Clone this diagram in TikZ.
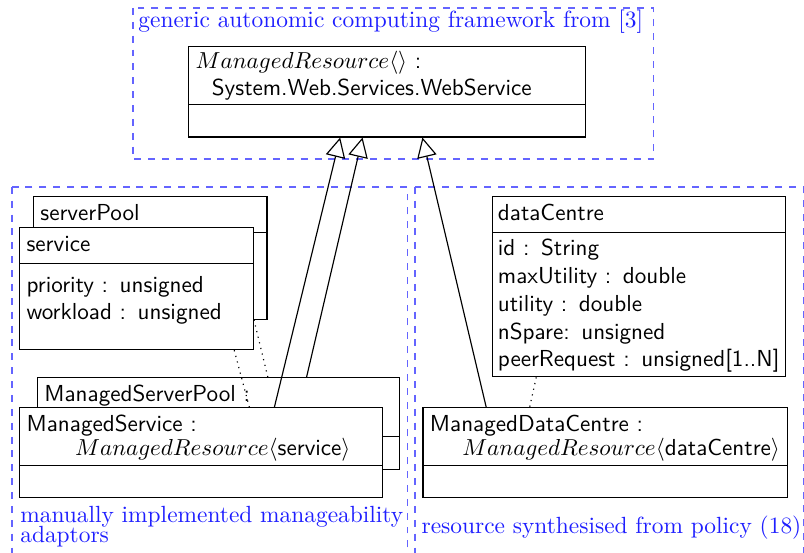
\documentclass[tikz,border=0pt]{standalone}
\usepackage{xcolor}
\usepackage{tikz}
\usepackage{amsmath}
\definecolor{frame1} {RGB} {100, 100, 255}
\definecolor{label1} {RGB} {30, 30, 255}
\usetikzlibrary{shapes.multipart}
\usetikzlibrary{arrows.meta,calc}
\tikzstyle{uml}=[
  line width=0.5pt, font=\sffamily
]
\tikzstyle{umlclass}=[
  draw, fill=white, rectangle split, rectangle split parts=2,
  anchor=north west, align=left, inner xsep=3pt, inner ysep=1.5pt
]
\tikzstyle{umlframe}=[
  draw=frame1, dashed, line width=0.65pt
]
\tikzstyle{umlnote}=[
  text=label1, font=\rmfamily\fontsize{10.12pt}{12pt}\selectfont,
  anchor=north west, inner sep=0pt, align=left
]
\tikzstyle{umlinherit}=[
  -{Triangle[open, length=8.5pt, width=8.5pt]}
]
\tikzstyle{umlbind}=[
  dotted
]

\begin{document}
\begin{tikzpicture}[uml]
    \useasboundingbox (0.0, 0.0) rectangle (12.22, 8.39);
    \draw [umlframe] (2.02, 8.27) rectangle (9.93, 5.97);
    \draw [umlframe] (0.18, 5.55) rectangle (6.19, -0.3);
    \draw [umlframe] (6.31, 5.55) rectangle (12.21, -0.3);
    \node (generic) [umlnote] at (2.095, 8.24) {generic autonomic computing framework from [3]};
    \node (mres) [umlclass, text width=165.5pt] at (2.86, 7.69)
        {$ManagedResource\langle\rangle$ :\\\hspace*{7pt}System.Web.Services.WebService
         \nodepart{second}\rule{0pt}{10.5pt}};
    \node (serverPool) [umlclass, text width=95pt] at ($(mres.north west) + (-2.36, -2.28)$)
        {\strut serverPool
         \nodepart{second}\rule{0pt}{34pt}};
    \node (service) [umlclass, text width=95pt] at ($(serverPool.north west) + (-0.21, -0.47)$)
        {\strut service
         \nodepart{second}\rule{0pt}{10.7pt}priority : unsigned\\workload : unsigned\rule[-11.1pt]{0pt}{0pt}};
    \node (mpool) [umlclass, text width=150.5pt] at ($(service.north west) + (0.27, -2.28)$)
        {\strut ManagedServerPool :\rule[-13.7pt]{0pt}{0pt}
         \nodepart{second}\rule{0pt}{10.5pt}};
    \node (mservice) [umlclass, text width=151pt] at ($(mpool.north west) + (-0.27, -0.46)$)
        {\strut ManagedService :\\[-1.6pt]\hspace*{21pt}$ManagedResource\langle$service$\rangle$
         \nodepart{second}\rule{0pt}{10.5pt}};
    \node (dataCentre) [umlclass, text width=122pt, inner xsep=2.25pt] at ($(serverPool.north west) + (6.98, 0.0)$)
        {\strut dataCentre
         \nodepart{second}\strut id : String\\maxUtility : double\\utility : double\\nSpare: unsigned\\peerRequest : unsigned[1..N]};
    \node (mdc) [umlclass, text width=151.8pt] at ($(mservice.north west) + (6.13, 0.0)$)
        {\strut ManagedDataCentre :\\[-1.6pt]\hspace*{14pt}$ManagedResource\langle$dataCentre$\rangle$
         \nodepart{second}\rule{0pt}{10.5pt}};
    \node (manual) [umlnote] at (0.30, 0.70) {manually implemented manageability\\[-3.5pt]adaptors};
    \node (synth) [umlnote] at (6.40, 0.55) {resource synthesised from policy (18)};
    \draw [umlinherit] ($(mservice.north west) + (3.88, 0.0)$) -- ($(mres.south west) + (2.31, 0.0)$);
    \draw [umlinherit] ($(mpool.north west) + (4.10, 0.0)$) -- ($(mres.south west) + (2.65, 0.0)$);
    \draw [umlinherit] ($(mdc.north west) + (0.97, 0.0)$) -- ($(mres.south west) + (3.56, 0.0)$);
    \draw [umlbind] ($(service.south west) + (3.27, 0.0)$) -- ($(mservice.north west) + (3.50, 0.0)$);
    \draw [umlbind] ($(serverPool.south west) + (3.36, 0.0)$) -- ($(mpool.north west) + (3.51, 0.0)$);
    \draw [umlbind] ($(dataCentre.south west) + (0.67, 0.0)$) -- ($(mdc.north west) + (1.63, 0.0)$);
\end{tikzpicture}
\end{document}
